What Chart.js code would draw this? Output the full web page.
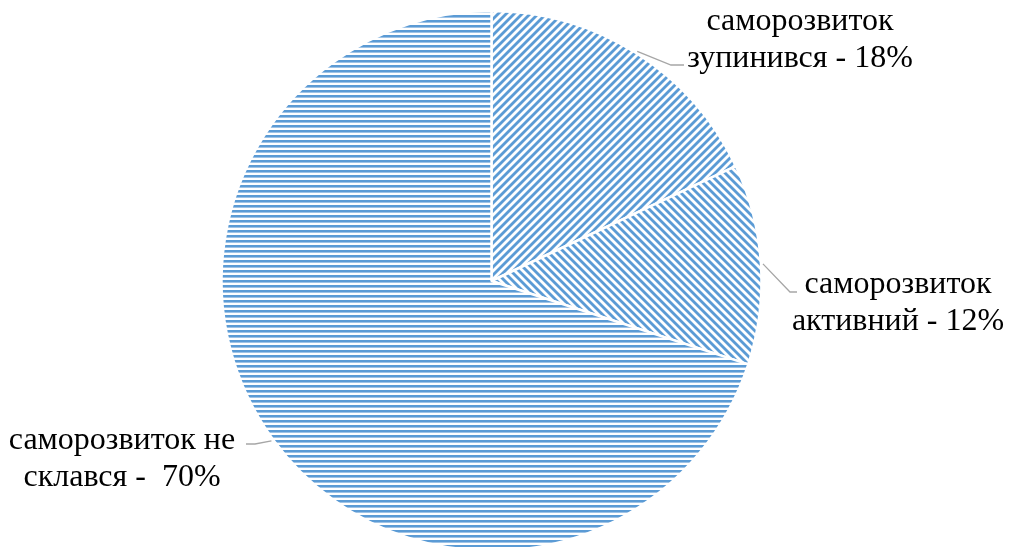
<!DOCTYPE html>
<html>
<head>
<meta charset="utf-8">
<script src="https://cdn.jsdelivr.net/npm/chart.js@4.4.1/dist/chart.umd.min.js"></script>
<style>
  html, body { margin: 0; padding: 0; background: #ffffff; overflow: hidden; }
  #wrap { width: 1013px; height: 547px; overflow: hidden; }
  canvas { display: block; }
</style>
</head>
<body>
<div id="wrap"><canvas id="chart" width="1013" height="562"></canvas></div>
<script>
// Shares of respondents by state of self-development
const categories = ['саморозвиток зупинився', 'саморозвиток активний', 'саморозвиток не склався'];
const shares = [18, 12, 70];
// Each label is drawn on two lines
const labelLines = [
  ['саморозвиток', 'зупинився - 18%'],
  ['саморозвиток', 'активний - 12%'],
  ['саморозвиток не', 'склався -  70%']
];

const BLUE = '#5b9bd5';

// Hatch fills
function horizontalHatch() {
  const c = document.createElement('canvas');
  c.width = 4; c.height = 5;
  const g = c.getContext('2d');
  g.fillStyle = '#fff'; g.fillRect(0, 0, 4, 5);
  g.fillStyle = BLUE; g.fillRect(0, 0, 4, 2);
  g.fillStyle = '#9fc3e6'; g.fillRect(0, 2, 4, 1);
  return g.createPattern(c, 'repeat');
}
function diagonalHatch(forward) {
  const s = 8;
  const c = document.createElement('canvas');
  c.width = s; c.height = s;
  const g = c.getContext('2d');
  g.fillStyle = '#fff'; g.fillRect(0, 0, s, s);
  g.strokeStyle = BLUE; g.lineWidth = 2.8;
  for (const k of [-s, 0, s]) {
    g.beginPath();
    if (forward) { g.moveTo(k - 1, s + 1); g.lineTo(k + s + 1, -1); }
    else { g.moveTo(k - 1, -1); g.lineTo(k + s + 1, s + 1); }
    g.stroke();
  }
  return g.createPattern(c, 'repeat');
}

// Text blocks and leader elbows for each slice
const labelLayout = [
  { cx: 800, y: 30, elbow: [671, 65], end: [684, 65] },
  { cx: 898, y: 293, elbow: [790, 292], end: [797, 292] },
  { cx: 122, y: 449, elbow: [255, 444], end: [246, 444] }
];

const calloutPlugin = {
  id: 'callouts',
  afterDraw(chart) {
    const ctx = chart.ctx;
    const arcs = chart.getDatasetMeta(0).data;
    ctx.save();
    arcs.forEach((arc, i) => {
      const L = labelLayout[i];
      const mid = (arc.startAngle + arc.endAngle) / 2;
      const r = arc.outerRadius + 2;
      const sx = arc.x + Math.cos(mid) * r;
      const sy = arc.y + Math.sin(mid) * r;
      ctx.strokeStyle = '#a6a6a6';
      ctx.lineWidth = 1.3;
      ctx.beginPath();
      ctx.moveTo(sx, sy);
      ctx.lineTo(L.elbow[0], L.elbow[1]);
      ctx.lineTo(L.end[0], L.end[1]);
      ctx.stroke();

      ctx.fillStyle = '#000';
      ctx.font = '32px "Liberation Serif", "Times New Roman", serif';
      ctx.textAlign = 'center';
      ctx.textBaseline = 'alphabetic';
      labelLines[i].forEach((line, j) => {
        ctx.fillText(line, L.cx, L.y + j * 37);
      });
    });
    ctx.restore();
  }
};

new Chart(document.getElementById('chart'), {
  type: 'pie',
  data: {
    labels: categories,
    datasets: [{
      data: shares,
      backgroundColor: [diagonalHatch(true), diagonalHatch(false), horizontalHatch()],
      borderColor: '#ffffff',
      borderWidth: 2.5
    }]
  },
  options: {
    responsive: false,
    animation: false,
    devicePixelRatio: 1,
    radius: 270,
    layout: { padding: { left: 0, right: 30, top: 11, bottom: 11 } },
    plugins: {
      legend: { display: false },
      tooltip: { enabled: false }
    }
  },
  plugins: [calloutPlugin]
});
</script>
</body>
</html>
